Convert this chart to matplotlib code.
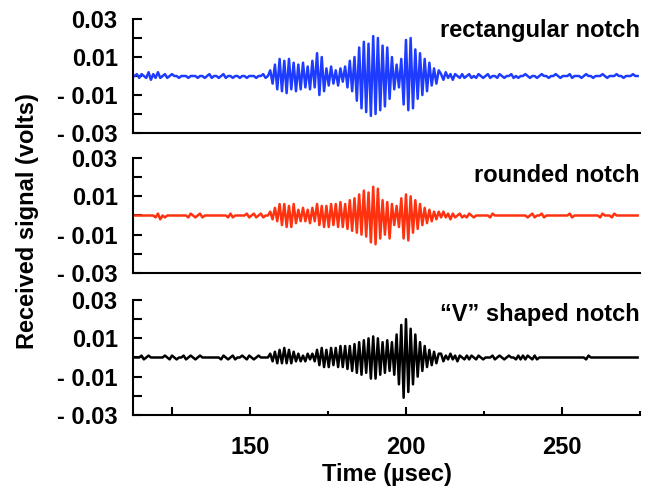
import matplotlib
matplotlib.use('Agg')
import matplotlib.pyplot as plt
import numpy as np

plt.rcParams['font.family'] = ['Liberation Sans', 'DejaVu Sans']
plt.rcParams['font.weight'] = 'bold'

dt = 0.75  # sample spacing (usec)
t_pre, t_burst, t_post = 113.0, 156.5, 211.25  # segment start times (usec)

# received signal, in mV
blue_pre = [0, 1, -1, 1, 0, -1, 2, -2, 1, -1, 2, -1, 0, 1, -1, 0, 1, 0,
            0, -1, 0, 0, 0, -1, 0, 0, 0, -1, 0, 0, -1, 0, 1, -1, 0, 0,
            -1, 0, 1, -1, 0, 0, -1, 0, 0, -1, 0, 0, -1, 0, 0, 0, -1, 0, 0, 1, -1, 0]
blue_burst = [3, -4, 6, -7,
              9, -8, 8, -9, 9, -7, 7,
              -8, 6, -7, 7, -6, 5, -7, 8, -6,
              12, -10, 10, -8,
              4, -5, 5, -4, 3, -5, 4, -3, 5,
              -6, 8, -8, 10,
              -13, 15, -17, 18, -19, 17,
              -21, 21, -20, 20, -18,
              16, -16, 15, -12, 10,
              -7, 6, -6, 9,
              -15, 19, -18, 20, -17, 14,
              -12, 12, -10, 9, -8,
              7, -5, 4, -4, 3]
blue_post = [1, -2, 2, -1, 1, -2, 1, 0, -1, 1, -1, 0, 1, -1, 0, -1, 1, 0, -1, 0, 1, -1,
             0, 0, -1, 1, 0, -1, 0, 0, 1, -1, 0, -1, 0, 0, 1, 0, -1, 0, 0, -1, 0, 1, 0,
             0, -1, 0, 0, 1, 0, -1, 0, 0, 0, 1, -1, 0, 0, 0, -1, 0, 1, 0, 0,
             -1, 0, 0, 0, 1, 0, -1, 0, 0, 0, 1, 0, 0, -1, 0, 0, 0, 1, 0, 0]

red_pre = [0, 0, 0, 0, 0, 0, 0, 0, 0, -1, 1, -2, 0, -1,
           0, 0, 0, 0, 0, 0, 0, 0, 0, -1, 1, 0, -1, 0, 1, -1, 0, 0,
           0, 0, 0, 0, 0, 0, 0, 0, -1, 1, -1, 0, 0, 0, 0, 0,
           1, -1, 0, 1, -1, 0, 1, -1, 0, 0]
red_burst = [2, -2, 4, -3,
             6, -5, 6, -6, 5, -6, 6,
             -4, 3, -3, 4, -3, 3, -4, 4, -3,
             6, -5, 5, -6,
             5, -6, 6, -5, 6, -6, 7, -6, 6,
             -7, 8, -8, 9,
             -9, 11, -10, 13, -11, 12,
             -14, 15, -15, 14, -12,
             8, -10, 7, -12, 6,
             -5, 5, -6, 9,
             -12, 11, -13, 10, -9, 8,
             -7, 6, -5, 4, -4,
             3, -3, 2, -2, 2]
red_post = [-1, 2, -1, 1, -2, 1, -1, 0, 1, -1, 0, -1, 1, 0, -1, 0,
            0, 0, 0, 0, 0, -1, 1, 0, 0, 0, 0, 0, 0, 0, 0, 0, 0, 0, 0, 0, 0,
            -1, 0, 1, -1, 0, 0, 1, -1,
            0, 0, 0, 0, 0, 0, 0, 0, 0, 0,
            1, -1, 0, 0, 0, 0, 0, 0, 0, 0, 0, 0, 0,
            -1, 1, 0, 0, 0, -1, 1, 0, 0, 0, 0, 0, 0, 0, 0, 0, 0]

black_pre = [0, 0, 0, 1, -1, 0, 1, 0, 0, 0, 0, 0, 0,
             1, 0, -1, 1, 0, -1, 0, 0, 1, -1, 0, 1, 0, -1, 0, 1,
             0, 0, 0, 0, 0, 0, 0, 0,
             -1, 1, 0, -1, 0, 1, -1, 0, 0, 1, 0, -1, 1, 0, -1, 0, 1,
             0, 0, 0, 0]
black_burst = [2, -2, 3, -3,
               4, -3, 5, -3, 4, -3, 3,
               -2, 2, -2, 1, -2, 2, -1, 2, -2,
               4, -4, 5, -5,
               4, -5, 5, -4, 5, -5, 6, -5, 6,
               -6, 6, -7, 7,
               -8, 8, -9, 9, -8, 10,
               -11, 11, -11, 10, -9,
               8, -8, 9, -7, 8,
               -9, 12, -14, 17,
               -21, 20, -18, 15, -14, 12,
               -10, 8, -7, 6, -5,
               4, -4, 3, -3, 2]
black_post = [2, -2, 1, -1, 2, -1, 1, -2, 1, 0, -1, 1, -1, 1, 0, -1, 1, 0, -1,
              0, 0, 0, 1, -1, 0, 1, 0, -1, 0, 1, 0, 0, -1, 1, -1, 1,
              -1, 1, 0, -1, 1, -1, 0, 0, 0, 0, 0, 0, 0, 0, 0, 0, 0, 0, 0, 0, 0, 0, 0, 0, 0, 0,
              -1, 1, 0, 0, 0, 0, 0, 0, 0, 0, 0, 0, 0, 0, 0, 0, 0, 0, 0, 0, 0, 0, 0]

names = ['rectangular notch', 'rounded notch', '\u201cV\u201d shaped notch']
colors = ['#1e3cff', '#ff3210', 'black']
name_y = [0.90, 0.85, 0.87]

y_ticks = [-0.03, -0.01, 0.01, 0.03]
y_ticklabels = ['- 0.03', '- 0.01', '0.01', '0.03']
y_minor = [-0.02, 0.0, 0.02]
x_ticks = [125, 150, 200, 250]
x_ticklabels = ['', '150', '200', '250']
x_minor = [175, 225, 275]


def trace(pre, burst, post):
    t = np.concatenate([t_pre + dt * np.arange(len(pre)),
                        t_burst + dt * np.arange(len(burst)),
                        t_post + dt * np.arange(len(post))])
    v = np.array(pre + burst + post) * 1e-3
    return t, v


traces = [trace(blue_pre, blue_burst, blue_post),
          trace(red_pre, red_burst, red_post),
          trace(black_pre, black_burst, black_post)]

fig = plt.figure(figsize=(6.48, 4.91), dpi=100)
boxes = [[0.2052, 0.7291, 0.7824, 0.2322],
         [0.2052, 0.4440, 0.7824, 0.2342],
         [0.2052, 0.1548, 0.7824, 0.2342]]

for i, (box, (t, v)) in enumerate(zip(boxes, traces)):
    ax = fig.add_axes(box)
    ax.plot(t, v, color=colors[i], lw=1.8)
    ax.set_xlim(112.5, 275)
    ax.set_ylim(-0.03, 0.03)
    for s in ['top', 'right']:
        ax.spines[s].set_visible(False)
    for s in ['left', 'bottom']:
        ax.spines[s].set_linewidth(1.5)
    ax.set_yticks(y_ticks)
    ax.set_yticklabels(y_ticklabels)
    ax.set_yticks(y_minor, minor=True)
    ax.tick_params(axis='y', which='both', direction='in', length=6.5, width=1.5,
                   pad=11, labelsize=17)
    if i == 2:
        ax.set_xticks(x_ticks)
        ax.set_xticklabels(x_ticklabels)
        ax.set_xticks(x_minor, minor=True)
        ax.tick_params(axis='x', which='major', direction='in', length=6, width=1.5,
                       pad=15, labelsize=17)
        ax.tick_params(axis='x', which='minor', direction='in', length=3, width=1.5)
    else:
        ax.set_xticks([])
    ax.text(1.0, name_y[i], names[i], transform=ax.transAxes, ha='right', va='center',
            fontsize=17, fontweight='bold')

fig.text(0.597, 1 - 475 / 491, 'Time (\u00b5sec)', ha='center', va='center',
         fontsize=17, fontweight='bold')
fig.text(0.042, 0.55, 'Received signal (volts)', ha='center', va='center',
         rotation=90, fontsize=17, fontweight='bold')

fig.savefig('out.png', dpi=100)
